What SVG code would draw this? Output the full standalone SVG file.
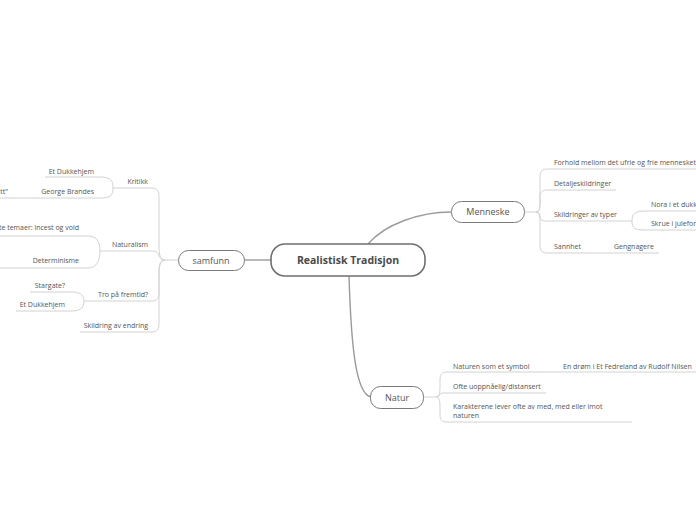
<svg xmlns="http://www.w3.org/2000/svg" width="696" height="520" viewBox="0 0 696 520">
<style>
.bg{fill:#fff}
.node{fill:#fff;stroke:#7a7a7a;stroke-width:1}
.root{fill:#fff;stroke:#6f6f6f;stroke-width:1.6}
.main{fill:none;stroke:#9a9a9a;stroke-width:1.4}
.sub{fill:none;stroke:#d2d2d2;stroke-width:1}
.t{font-family:"Open Sans","Noto Sans",sans-serif;fill:#555}
.rt{font-size:10.5px;font-weight:bold;fill:#4a4a4a;text-anchor:middle}
.nt{font-size:9px;text-anchor:middle}
.ct{font-size:7px}
.e{text-anchor:end}
</style>
<rect class="bg" x="0" y="0" width="696" height="520"/>
<g id="connectors">
<path class="main" d="M244,260 L271,260"/>
<path class="main" d="M368,244 C385,224 420,212 451,212"/>
<path class="main" d="M349,276 C351,340 355,394 371,397"/>
<!-- Menneske -->
<path class="sub" d="M524,212 L536,212"/>
<path class="sub" d="M536,212 C540,212 540,206 540,200 L540,178 C540,171 542,169 548,169 L696,169"/>
<path class="sub" d="M536,212 C540,212 540,207 540,202 L540,197 C540,192 542,190 548,190 L616,190"/>
<path class="sub" d="M536,212 C540,212 540,215 540,216 C540,220 542,221 548,221 L622,221"/>
<path class="sub" d="M536,212 C540,212 540,218 540,224 L540,245 C540,251 542,253 548,253 L659,253"/>
<path class="sub" d="M622,221 L632,221"/>
<path class="sub" d="M696,211 L646,211 C634,211 632,214 632,221 C632,228 634,230 646,230 L696,230"/>
<!-- Natur -->
<path class="sub" d="M423,397 L436,397"/>
<path class="sub" d="M436,397 C440,397 440,391 440,385 L440,380 C440,375 442,372 447,372 L696,372"/>
<path class="sub" d="M436,397 C440,397 440,394 440,394 C441,393 442,393 447,393 L546,393"/>
<path class="sub" d="M436,397 C440,397 440,403 440,408 L440,415 C440,420 442,422 447,422 L632,422"/>
<!-- samfunn -->
<path class="sub" d="M178,260 L165,260"/>
<path class="sub" d="M165,260 C160,260 159,254 159,247 L159,197 C159,191 157,188 152,188 L113,188"/>
<path class="sub" d="M165,260 C161,260 160,258 159,256 C158,253 157,251 152,251 L100,251"/>
<path class="sub" d="M165,260 C160,260 159,266 159,272 L159,292 C159,298 157,301 152,301 L84,301"/>
<path class="sub" d="M165,260 C160,260 159,266 159,274 L159,323 C159,329 157,332 152,332 L80,332"/>
<path class="sub" d="M45,177 L100,177 C111,177 113,181 113,188 C113,195 111,198 100,198 L0,198"/>
<path class="sub" d="M0,236 L88,236 C97,236 100,242 100,251 C100,260 97,268 88,268 L0,268"/>
<path class="sub" d="M30,292 L72,292 C81,292 84,296 84,301 C84,307 81,311 72,311 L16,311"/>
</g>
<g id="root">
<rect class="root" x="271" y="244" width="154" height="32" rx="14"/>
<text class="t rt" x="348" y="264">Realistisk Tradisjon</text>
</g>
<g id="samfunn">
<rect class="node" x="178.5" y="250.5" width="66" height="20" rx="10"/>
<text class="t nt" x="211" y="264">samfunn</text>
</g>
<g id="menneske">
<rect class="node" x="451.5" y="201.5" width="73" height="21" rx="10"/>
<text class="t nt" x="488" y="215">Menneske</text>
</g>
<g id="natur">
<rect class="node" x="370.5" y="386.5" width="53" height="22" rx="10"/>
<text class="t nt" x="397" y="401">Natur</text>
</g>
<g id="menneske-children">
<text class="t ct" x="554" y="164.5">Forhold mellom det ufrie og frie mennesket</text>
<text class="t ct" x="554" y="185.5">Detaljeskildringer</text>
<text class="t ct" x="554" y="216.5">Skildringer av typer</text>
<text class="t ct" x="651" y="206.5">Nora i et dukkehjem</text>
<text class="t ct" x="651" y="225.5">Skrue i julefortellingen</text>
<text class="t ct" x="554" y="248.5">Sannhet</text>
<text class="t ct" x="614" y="248.5">Gengnagere</text>
</g>
<g id="natur-children">
<text class="t ct" x="453" y="368.5">Naturen som et symbol</text>
<text class="t ct" x="563" y="368.5">En drøm i Et Fedreland av Rudolf Nilsen</text>
<text class="t ct" x="453" y="388.5">Ofte uoppnåelig/distansert</text>
<text class="t ct" x="453" y="408.5">Karakterene lever ofte av med, med eller imot</text>
<text class="t ct" x="453" y="417.5">naturen</text>
</g>
<g id="samfunn-children">
<text class="t ct e" x="148" y="183.5">Kritikk</text>
<text class="t ct e" x="94" y="173.5">Et Dukkehjem</text>
<text class="t ct e" x="94" y="193.5">George Brandes</text>
<text class="t ct e" x="8" y="193.5">"Sette problemer under debatt"</text>
<text class="t ct e" x="148" y="246.5">Naturalism</text>
<text class="t ct e" x="79" y="229.5">Tabubelagte temaer: incest og vold</text>
<text class="t ct e" x="79" y="262.5">Determinisme</text>
<text class="t ct e" x="148" y="296.5">Tro på fremtid?</text>
<text class="t ct e" x="65" y="287.5">Stargate?</text>
<text class="t ct e" x="65" y="306.5">Et Dukkehjem</text>
<text class="t ct e" x="148" y="327.5">Skildring av endring</text>
</g>
</svg>
